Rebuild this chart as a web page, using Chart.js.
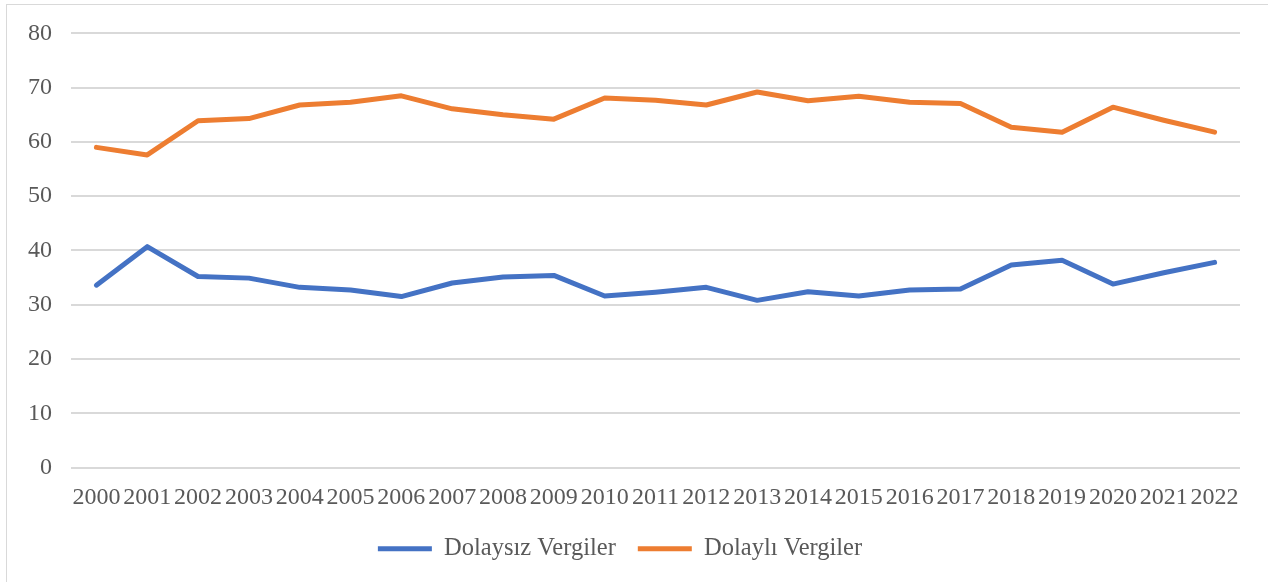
<!DOCTYPE html>
<html>
<head>
<meta charset="utf-8">
<script src="https://cdn.jsdelivr.net/npm/chart.js@4.4.0/dist/chart.umd.min.js"></script>
<style>
  html, body { margin: 0; padding: 0; background: #fff; }
  #frame {
    position: absolute; left: 6px; top: 4px; width: 1300px; height: 620px;
    border-left: 1px solid #d9d9d9; border-top: 1px solid #d9d9d9;
  }
  #wrap { position: absolute; left: 0; top: 0; width: 1268px; height: 582px; }
</style>
</head>
<body>
<div id="frame"></div>
<div id="wrap"><canvas id="vergiChart"></canvas></div>
<script>
const years = ['2000','2001','2002','2003','2004','2005','2006','2007','2008','2009','2010','2011',
  '2012','2013','2014','2015','2016','2017','2018','2019','2020','2021','2022'];
const dolaysiz = [33.6, 40.7, 35.2, 34.9, 33.2, 32.7, 31.5, 34.0, 35.1, 35.4, 31.6, 32.3,
  33.2, 30.8, 32.4, 31.6, 32.7, 32.9, 37.3, 38.2, 33.8, 35.9, 37.8];
const dolayli = [59.0, 57.6, 63.9, 64.3, 66.8, 67.3, 68.5, 66.1, 65.0, 64.2, 68.1, 67.7,
  66.8, 69.2, 67.6, 68.4, 67.3, 67.1, 62.7, 61.8, 66.4, 64.0, 61.8];

const serif = "'Liberation Serif', 'Times New Roman', serif";
const textColor = '#595959';

const vergiChart = new Chart(document.getElementById('vergiChart'), {
  type: 'line',
  data: {
    labels: years,
    datasets: [
      {
        label: 'Dolaysız Vergiler',
        data: dolaysiz,
        borderColor: '#4472C4',
        backgroundColor: '#4472C4',
        borderWidth: 5,
        borderCapStyle: 'round',
        borderJoinStyle: 'round',
        pointRadius: 0,
        fill: false
      },
      {
        label: 'Dolaylı Vergiler',
        data: dolayli,
        borderColor: '#ED7D31',
        backgroundColor: '#ED7D31',
        borderWidth: 5,
        borderCapStyle: 'round',
        borderJoinStyle: 'round',
        pointRadius: 0,
        fill: false
      }
    ]
  },
  options: {
    responsive: true,
    maintainAspectRatio: false,
    animation: false,
    layout: { padding: { left: 0, right: 28, top: 31, bottom: 11 } },
    plugins: {
      tooltip: { enabled: false },
      legend: {
        position: 'bottom',
        labels: {
          usePointStyle: true,
          pointStyle: 'line',
          pointStyleWidth: 54,
          boxHeight: 22,
          padding: 22,
          color: textColor,
          font: { family: serif, size: 24.5 }
        }
      }
    },
    scales: {
      x: {
        offset: true,
        // a bit shorter than the natural height so the plot bottom lands at the reference spot
        afterFit: s => { s.height = 47; },
        grid: { display: false },
        border: { display: false },
        ticks: {
          autoSkip: false, maxRotation: 0, minRotation: 0, padding: 8,
          color: textColor, font: { family: serif, size: 24 }
        }
      },
      y: {
        min: 0,
        max: 80,
        afterFit: s => { s.width = 71; },
        grid: { color: '#d9d9d9', lineWidth: 2, drawTicks: false },
        border: { display: false },
        ticks: {
          stepSize: 10, padding: 19,
          color: textColor, font: { family: serif, size: 24 }
        }
      }
    }
  }
});
</script>
</body>
</html>
